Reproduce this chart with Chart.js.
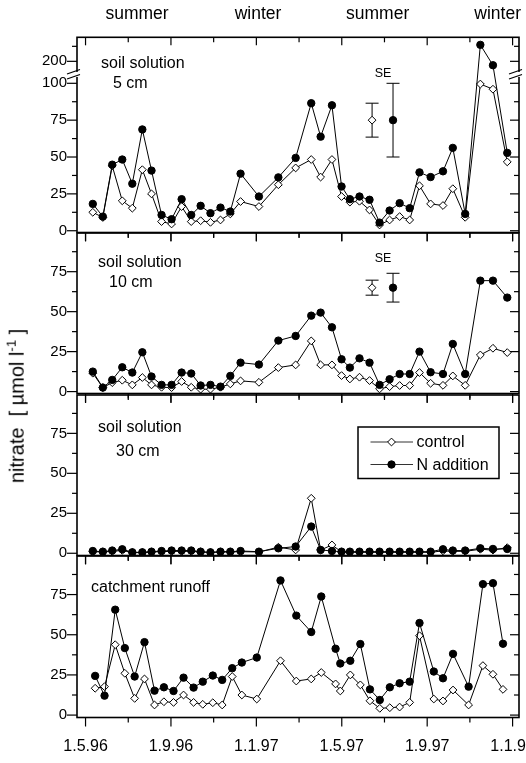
<!DOCTYPE html>
<html lang="en">
<head>
<meta charset="UTF-8" />
<title>Nitrate in soil solution and runoff</title>
<script src="https://cdn.jsdelivr.net/npm/chart.js@4"></script>
<style>
  html, body { margin: 0; padding: 0; background: #fff; overflow: hidden; }
  body { width: 526px; height: 763px; position: relative; font-family: 'Liberation Sans', Arial, sans-serif; color: #000; }
  canvas { position: absolute; left: 0; }
  .lbl { position: absolute; font-size: 16px; line-height: 16px; white-space: nowrap; }
  .se { position: absolute; font-size: 12.5px; line-height: 12px; transform: translate(-50%, -50%); }
  #ytitle { position: absolute; left: 16px; top: 406px; font-size: 20px; white-space: nowrap;
            transform: translate(-50%, -50%) rotate(-90deg); }
  #ytitle sup { font-size: 13px; }
</style>
</head>
<body>
<canvas id="p1" width="560" height="252" style="top:0"></canvas>
<canvas id="p2" width="560" height="200" style="top:213px"></canvas>
<canvas id="p3" width="560" height="200" style="top:375px"></canvas>
<canvas id="p4" width="560" height="227" style="top:536px"></canvas>

<div class="lbl" style="left:101px; top:55px">soil solution</div>
<div class="lbl" style="left:113px; top:75px">5 cm</div>
<div class="lbl" style="left:98px; top:254px">soil solution</div>
<div class="lbl" style="left:109px; top:274px">10 cm</div>
<div class="lbl" style="left:98px; top:419px">soil solution</div>
<div class="lbl" style="left:116px; top:443px">30 cm</div>
<div class="lbl" style="left:91px; top:579px">catchment runoff</div>
<div class="se" style="left:383px; top:73px">SE</div>
<div class="se" style="left:383px; top:258px">SE</div>
<div id="ytitle">nitrate&nbsp;&nbsp;[ µmol l<sup>-1</sup> ]</div>

<script>
  // x values are months after 1 May 1996
  const xTickLabels = ['1.5.96', '1.9.96', '1.1.97', '1.5.97', '1.9.97', '1.1.98'];
  const xMajor = [0, 4, 8, 12, 16, 20];
  const xMinor = [2, 6, 10, 14, 18];
  const seasonLabels = ['summer', 'winter', 'summer', 'winter'];
  const seasonMonths = [2.41, 8.08, 13.68, 19.3];
  const seriesNames = ['control', 'N addition'];

  const soilMonths = [0.34, 0.81, 1.25, 1.72, 2.19, 2.66, 3.09, 3.56, 4.03, 4.50,
    4.95, 5.39, 5.85, 6.32, 6.78, 7.26, 8.12, 9.03, 9.84, 10.57,
    11.01, 11.54, 11.99, 12.38, 12.83, 13.30, 13.77, 14.24, 14.71, 15.18,
    15.64, 16.16, 16.74, 17.20, 17.78, 18.49, 19.08, 19.75];
  const runoffMonths = [0.45, 0.89, 1.39, 1.84, 2.30, 2.76, 3.23, 3.67, 4.12, 4.59,
    5.06, 5.49, 5.96, 6.40, 6.87, 7.32, 8.02, 9.13, 9.87, 10.57,
    11.04, 11.71, 11.93, 12.40, 12.87, 13.32, 13.78, 14.25, 14.71, 15.18,
    15.64, 16.31, 16.74, 17.21, 17.94, 18.61, 19.08, 19.55];

  const control5 = [12.5, 9, 44, 20.3, 15.3, 41.4, 25, 6.2, 4.6, 16.4,
    6.2, 6.8, 5.7, 7.3, 11.4, 19.8, 16.4, 31.2, 42.6, 48.3,
    36.4, 48.3, 23.2, 19.4, 20, 14.1, 3.9, 7.3, 9.6, 7.3,
    30.5, 18.2, 17.1, 28.5, 9.1, 99.5, 96, 46.7];
  const nadd5 = [18.2, 9.6, 44.8, 48.3, 31.9, 68.7, 40.8, 10.7, 7.8, 21.4,
    10.7, 16.9, 11.9, 15.7, 13.0, 38.7, 23.2, 36.2, 49.4, 86.5,
    63.8, 85.1, 30.0, 21.4, 23.2, 21.0, 5.5, 13.7, 18.7, 15.3,
    39.6, 36.4, 40.3, 56.2, 11.4, 255, 187, 52.8];

  const control10 = [11.5, 2.5, 5.6, 7.1, 4.2, 8.8, 4.2, 2.7, 2.5, 6.3,
    2.7, 1.5, 1.5, 2.7, 4.8, 6.7, 5.8, 15, 16.7, 31.7,
    16.7, 16.7, 10, 7.9, 9, 6.9, 1.7, 3.1, 3.8, 3.8,
    11.9, 5.2, 3.9, 9.8, 3.9, 22.9, 27.1, 24.4];
  const nadd10 = [12.5, 2.5, 7.3, 15.2, 11.9, 24.6, 9.4, 4.2, 4.2, 11.9,
    11.3, 3.8, 4.2, 3.1, 9.8, 18.1, 16.9, 31.9, 34.8, 47.5,
    49.4, 40.2, 20.2, 15, 20.8, 18.1, 4.2, 7.7, 11, 11,
    25, 12.1, 11, 29.8, 11, 69.4, 69.4, 58.8];

  const control30 = [1.0, 0.8, 1.2, 1.8, 0.4, 0.4, 0.8, 1.0, 1.2, 1.2,
    1.2, 0.8, 0.4, 0.8, 0.8, 1.0, 0.8, 3.8, 2.1, 34.4,
    2.0, 5.2, 0.8, 0.6, 0.6, 0.6, 0.6, 0.6, 0.6, 0.6,
    0.6, 0.6, 1.5, 1.2, 1.2, 2.5, 2.0, 3.5];
  const nadd30 = [1.4, 1.0, 1.7, 2.5, 0.6, 0.6, 1.0, 1.4, 1.7, 1.7,
    1.7, 1.0, 0.6, 1.0, 1.0, 1.4, 1.0, 3.1, 4.2, 16.7,
    2.1, 1.4, 1.0, 1.0, 1.0, 1.0, 1.0, 1.0, 1.0, 1.0,
    1.0, 1.0, 2.5, 1.7, 1.7, 3.1, 2.7, 2.7];

  const controlRunoff = [16.7, 17.7, 43.8, 26, 10.4, 22.5, 6.3, 8.3, 7.9, 12.5,
    7.9, 6.7, 7.7, 6.3, 24, 12.5, 10, 33.8, 21.2, 22.5,
    26.5, 19.4, 15, 25, 18.8, 8.9, 4.2, 4.6, 5, 7.9,
    49.4, 10, 8.8, 15.6, 6.3, 30.8, 25.4, 16];
  const naddRunoff = [24.4, 12.1, 65.6, 41.7, 24, 45.4, 15.2, 17.3, 15, 23.3,
    17.1, 20.8, 24.6, 21.9, 29.2, 32.7, 35.8, 83.8, 61.9, 51.7,
    73.8, 41.3, 32.1, 33.8, 44.2, 16, 9.4, 17.3, 19.8, 20.8,
    57.3, 27.1, 22.9, 38.1, 17.7, 81.5, 82.1, 44.4];

  // standard errors: [control, N addition]
  const seMonths = [13.42, 14.4];
  const se5Mean = [75, 75];
  const se5Half = [11.5, 25];
  const se10Mean = [65, 65];
  const se10Half = [4.7, 9];

  // y ticks
  const yTicks = [0, 25, 50, 75];
  const yTickLabels = ['0', '25', '50', '75'];
  const yMinor = [12.5, 37.5, 62.5, 87.5];
  const y5Ticks = [0, 25, 50, 75, 100, 200];
  const y5TickLabels = ['0', '25', '50', '75', '100', '200'];
  const y5Minor = [12.5, 37.5, 62.5, 87.5, 250];

  // the 5 cm panel has a broken axis above 100
  function brokenY(v) {
    return v <= 100 ? v : 114.9 + (v - 200) * 0.2035;
  }

  Chart.defaults.font.family = "'Liberation Sans', Arial, sans-serif";
  Chart.defaults.color = '#000';

  function pts(xs, ys, f) {
    return xs.map((x, i) => ({ x: x, y: f ? f(ys[i]) : ys[i] }));
  }

  function seriesSets(xs, c, n, f) {
    return [
      { label: seriesNames[0], data: pts(xs, c, f), borderColor: '#000', borderWidth: 1,
        pointStyle: 'rectRot', pointRadius: 3.9, pointBackgroundColor: '#fff',
        pointBorderColor: '#000', pointBorderWidth: 1, order: 2 },
      { label: seriesNames[1], data: pts(xs, n, f), borderColor: '#000', borderWidth: 1,
        pointStyle: 'circle', pointRadius: 3.7, pointBackgroundColor: '#000',
        pointBorderColor: '#000', pointBorderWidth: 1, order: 1 }
    ];
  }

  function seSets(mean, half) {
    const out = [];
    seMonths.forEach((m, i) => {
      out.push({ data: [{ x: m, y: mean[i] - half[i] }, { x: m, y: mean[i] + half[i] }],
        borderColor: '#000', borderWidth: 1, pointStyle: 'line', pointRadius: 6.5,
        pointBorderColor: '#000', pointBorderWidth: 1, order: 3 });
      out.push({ data: [{ x: m, y: mean[i] }], showLine: false,
        pointStyle: i === 0 ? 'rectRot' : 'circle', pointRadius: i === 0 ? 3.9 : 3.7,
        pointBackgroundColor: i === 0 ? '#fff' : '#000', pointBorderColor: '#000',
        pointBorderWidth: 1, order: 0 });
    });
    return out;
  }

  function line(ctx, x1, y1, x2, y2) {
    ctx.beginPath(); ctx.moveTo(x1, y1); ctx.lineTo(x2, y2); ctx.stroke();
  }

  const framePlugin = {
    id: 'frame',
    afterDraw(chart, args, o) {
      const { ctx, chartArea: a, scales: { x, y } } = chart;
      ctx.save();
      ctx.strokeStyle = '#000';
      ctx.lineWidth = 1.6;
      ctx.strokeRect(a.left, a.top, a.right - a.left, a.bottom - a.top);
      ctx.lineWidth = 1.2;
      xMajor.forEach(v => {
        const p = x.getPixelForValue(v);
        line(ctx, p, a.top, p, a.top + 8);
        line(ctx, p, a.bottom, p, a.bottom + 9);
      });
      xMinor.forEach(v => {
        const p = x.getPixelForValue(v);
        line(ctx, p, a.top, p, a.top + 5);
        line(ctx, p, a.bottom, p, a.bottom + 5);
      });
      o.major.forEach(v => {
        const p = y.getPixelForValue(v);
        line(ctx, a.left - 10, p, a.left, p);
        line(ctx, a.right - 9, p, a.right, p);
      });
      o.minor.forEach(v => {
        const p = y.getPixelForValue(o.map ? o.map(v) : v);
        line(ctx, a.left - 5, p, a.left, p);
        line(ctx, a.right - 5, p, a.right, p);
      });
      if (o.brk) {
        const p = y.getPixelForValue(o.brk);
        [a.left, a.right].forEach(ax => {
          ctx.fillStyle = '#fff';
          ctx.fillRect(ax - 2, p - 2.5, 4, 5);
          line(ctx, ax - 10, p - 0.5, ax + 3, p - 5);
          line(ctx, ax - 10, p + 4.5, ax + 3, p);
        });
      }
      ctx.restore();
    }
  };

  const seasonPlugin = {
    id: 'seasons',
    afterDraw(chart, args, o) {
      if (!o.show) return;
      const { ctx, scales: { x } } = chart;
      ctx.save();
      ctx.fillStyle = '#000';
      ctx.font = "17.5px 'Liberation Sans', Arial, sans-serif";
      ctx.textAlign = 'center';
      ctx.textBaseline = 'alphabetic';
      seasonLabels.forEach((s, i) => ctx.fillText(s, x.getPixelForValue(seasonMonths[i]), 19));
      ctx.restore();
    }
  };

  const legendPlugin = {
    id: 'boxLegend',
    afterDraw(chart, args, o) {
      if (!o.show) return;
      const { ctx, chartArea: a } = chart;
      const left = a.right - 161, top = a.top + 32;
      ctx.save();
      ctx.strokeStyle = '#000';
      ctx.lineWidth = 1.5;
      ctx.strokeRect(left, top, 141, 51.5);
      seriesNames.forEach((name, i) => {
        const yy = top + 15 + i * 22.5;
        const mx = left + 33.5;
        ctx.lineWidth = 1;
        ctx.strokeStyle = '#333';
        line(ctx, left + 12.5, yy, left + 55, yy);
        ctx.strokeStyle = '#000';
        ctx.beginPath();
        if (i === 0) {
          ctx.moveTo(mx, yy - 3.9); ctx.lineTo(mx + 3.9, yy);
          ctx.lineTo(mx, yy + 3.9); ctx.lineTo(mx - 3.9, yy); ctx.closePath();
          ctx.fillStyle = '#fff';
        } else {
          ctx.arc(mx, yy, 3.7, 0, Math.PI * 2);
          ctx.fillStyle = '#000';
        }
        ctx.fill(); ctx.stroke();
        ctx.fillStyle = '#000';
        ctx.font = "16px 'Liberation Sans', Arial, sans-serif";
        ctx.textBaseline = 'middle';
        ctx.fillText(name, left + 58.5, yy + 1);
      });
      ctx.restore();
    }
  };

  function makePanel(id, cfg) {
    return new Chart(document.getElementById(id), {
      type: 'line',
      data: { datasets: cfg.datasets },
      options: {
        responsive: false,
        animation: false,
        layout: { padding: cfg.pad, autoPadding: false },
        elements: { line: { tension: 0 } },
        plugins: {
          legend: { display: false },
          tooltip: { enabled: false },
          frame: cfg.frame,
          seasons: { show: !!cfg.seasons },
          boxLegend: { show: !!cfg.legend }
        },
        scales: {
          x: {
            type: 'linear', min: -0.4, max: 20.3,
            display: !!cfg.showX,
            grid: { display: false, drawTicks: false },
            border: { display: false },
            afterBuildTicks: s => { s.ticks = xMajor.map(v => ({ value: v })); },
            afterFit: s => { s.height = cfg.showX ? 45.5 : 0; },
            ticks: { padding: 19, maxRotation: 0, autoSkip: false, font: { size: 16 },
              callback: (v, i) => xTickLabels[i] }
          },
          y: {
            type: 'linear', min: cfg.ymin, max: cfg.ymax,
            grid: { display: false, drawTicks: false },
            border: { display: false },
            afterBuildTicks: s => { s.ticks = cfg.ticks.map(v => ({ value: v })); },
            afterFit: s => { s.width = 77; },
            ticks: { padding: 10, autoSkip: false, font: { size: 15 },
              callback: (v, i) => cfg.tickLabels[i] }
          }
        }
      },
      plugins: [framePlugin, seasonPlugin, legendPlugin]
    });
  }

  const y5Mapped = y5Ticks.map(brokenY);

  makePanel('p1', {
    datasets: seriesSets(soilMonths, control5, nadd5, brokenY).concat(seSets(se5Mean, se5Half)),
    pad: { left: 0, right: 41, top: 37.3, bottom: 19.5 },
    ymin: -1.2, ymax: 131.2,
    ticks: y5Mapped, tickLabels: y5TickLabels,
    frame: { major: y5Mapped, minor: y5Minor, map: brokenY, brk: 106 },
    seasons: true
  });

  makePanel('p2', {
    datasets: seriesSets(soilMonths, control10, nadd10).concat(seSets(se10Mean, se10Half)),
    pad: { left: 0, right: 41, top: 20, bottom: 19.5 },
    ymin: -1.2, ymax: 99.2,
    ticks: yTicks, tickLabels: yTickLabels,
    frame: { major: yTicks, minor: yMinor }
  });

  makePanel('p3', {
    datasets: seriesSets(soilMonths, control30, nadd30),
    pad: { left: 0, right: 41, top: 20, bottom: 19.5 },
    ymin: -1.4, ymax: 99,
    ticks: yTicks, tickLabels: yTickLabels,
    frame: { major: yTicks, minor: yMinor },
    legend: true
  });

  makePanel('p4', {
    datasets: seriesSets(runoffMonths, controlRunoff, naddRunoff),
    pad: { left: 0, right: 41, top: 20, bottom: 0 },
    ymin: -1.5, ymax: 99,
    ticks: yTicks, tickLabels: yTickLabels,
    frame: { major: yTicks, minor: yMinor },
    showX: true
  });
</script>
</body>
</html>
